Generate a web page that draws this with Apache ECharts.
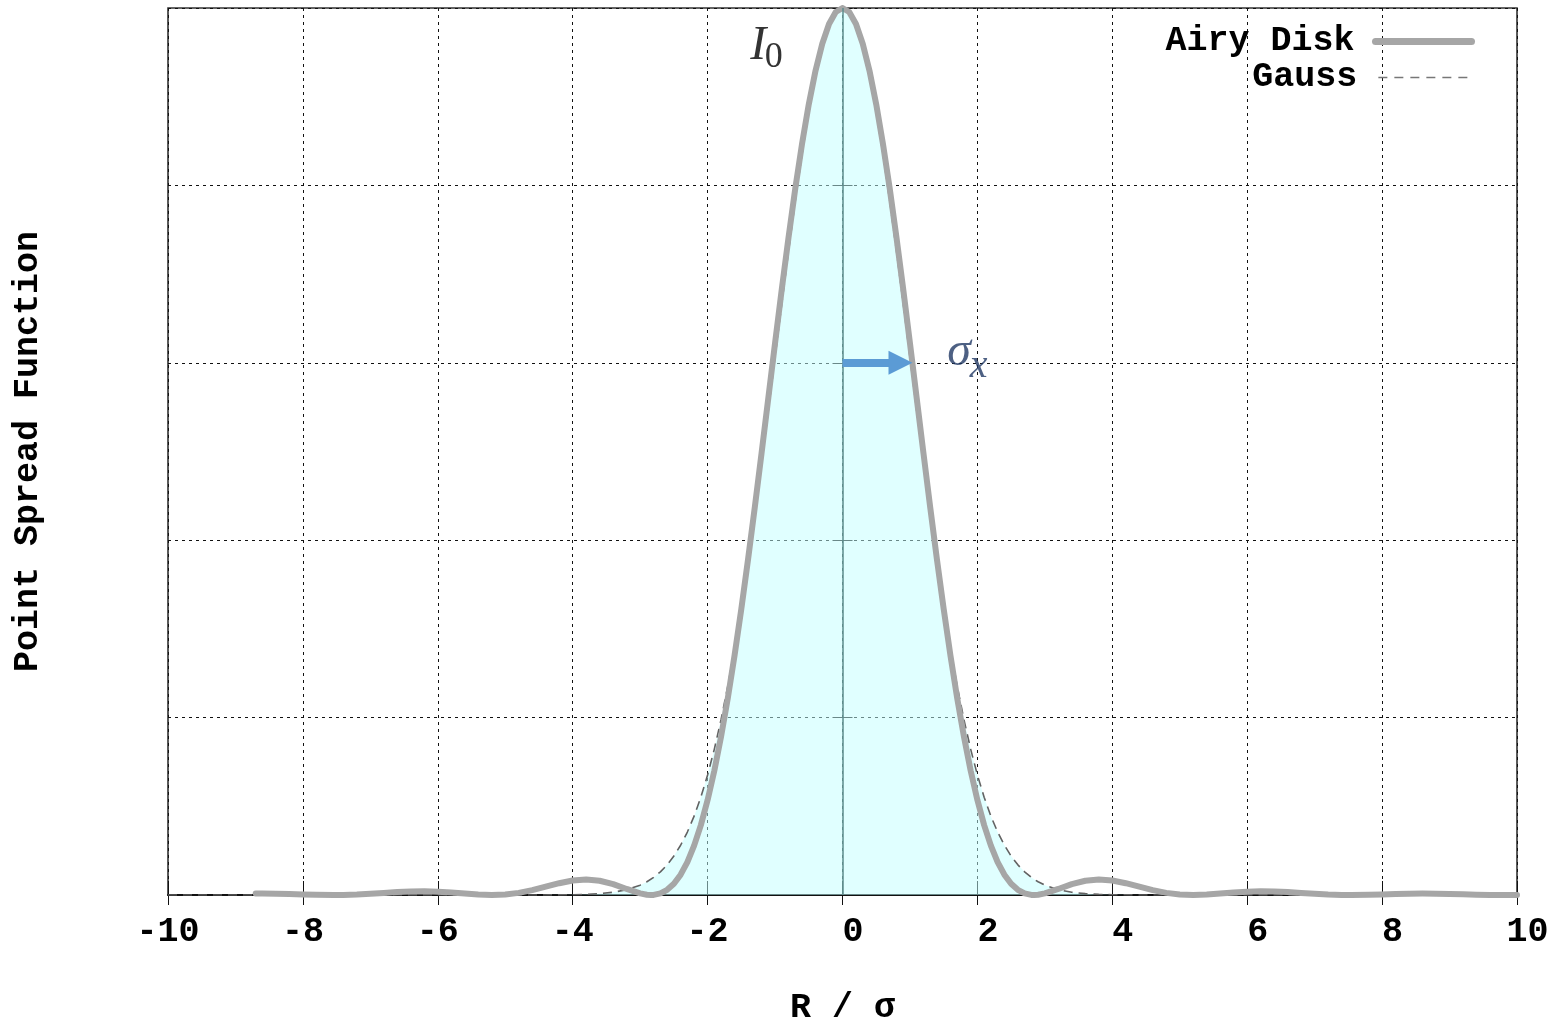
<!DOCTYPE html>
<html><head><meta charset="utf-8">
<script src="https://cdn.jsdelivr.net/npm/echarts@6/dist/echarts.min.js"></script>
<style>html,body{margin:0;padding:0;background:#fff}#c{width:1555px;height:1023px}</style>
</head><body><div id="c"></div>
<script>
// ---- data ----
const airyX = [-8.7,-8.6,-8.4,-8.2,-8.0,-7.8,-7.54,-7.4,-7.2,-7.0,-6.8,-6.6,-6.4,-6.2,-6.0,-5.8,-5.6,-5.4,-5.2,-5.0,-4.8,-4.6,-4.4,-4.2,-4.0,-3.8,-3.6,-3.4,-3.2,-3.0,-2.9,-2.84,-2.8,-2.7,-2.6,-2.5,-2.4,-2.3,-2.2,-2.1,-2.0,-1.9,-1.8,-1.7,-1.6,-1.5,-1.4,-1.3,-1.2,-1.1,-1.0,-0.9,-0.8,-0.7,-0.6,-0.5,-0.4,-0.3,-0.2,-0.1,
  0,0.1,0.2,0.3,0.4,0.5,0.6,0.7,0.8,0.9,1.0,1.1,1.2,1.3,1.4,1.5,1.6,1.7,1.8,1.9,2.0,2.1,2.2,2.3,2.4,2.5,2.6,2.7,2.8,2.84,2.9,3.0,3.2,3.4,3.6,3.8,4.0,4.2,4.4,4.6,4.8,5.0,5.2,5.4,5.6,5.8,6.0,6.2,6.4,6.6,6.8,7.0,7.2,7.4,7.54,7.8,8.0,8.2,8.4,8.6,8.8,9.0,9.2,9.4,9.6,9.8,10];
const airyY = [0.0016,0.0016,0.0015,0.0011,0.0007,0.0003,0,0.0001,0.0005,0.0013,0.0023,0.0033,0.0040,0.0042,0.0037,0.0028,0.0016,0.0005,0,0.0006,0.0024,0.0055,0.0094,0.0133,0.0164,0.0175,0.0161,0.0123,0.0068,0.0018,0.0003,0,0.0001,0.0018,0.0058,0.0126,0.0229,0.0371,0.0556,0.0788,0.1070,0.1403,0.1787,0.2221,0.2702,0.3225,0.3785,0.4374,0.4983,0.5603,0.6223,0.6831,0.7415,0.7965,0.8468,0.8914,0.9293,0.9597,0.9819,0.9955,
  1.0,0.9955,0.9819,0.9597,0.9293,0.8914,0.8468,0.7965,0.7415,0.6831,0.6223,0.5603,0.4983,0.4374,0.3785,0.3225,0.2702,0.2221,0.1787,0.1403,0.1070,0.0788,0.0556,0.0371,0.0229,0.0126,0.0058,0.0018,0.0001,0,0.0003,0.0018,0.0068,0.0123,0.0161,0.0175,0.0164,0.0133,0.0094,0.0055,0.0024,0.0006,0,0.0005,0.0016,0.0028,0.0037,0.0042,0.0040,0.0033,0.0023,0.0013,0.0005,0.0001,0,0.0003,0.0007,0.0011,0.0015,0.0016,0.0015,0.0012,0.0008,0.0004,0.0001,0,0];
const gaussX = [-10,-4.5,-4.0,-3.8,-3.6,-3.4,-3.2,-3.0,-2.9,-2.8,-2.7,-2.6,-2.5,-2.4,-2.3,-2.2,-2.1,-2.0,-1.9,-1.8,-1.7,-1.6,-1.5,-1.4,-1.3,-1.2,-1.1,-1.0,-0.9,-0.8,-0.7,-0.6,-0.5,-0.4,-0.3,-0.2,-0.1,
  0,0.1,0.2,0.3,0.4,0.5,0.6,0.7,0.8,0.9,1.0,1.1,1.2,1.3,1.4,1.5,1.6,1.7,1.8,1.9,2.0,2.1,2.2,2.3,2.4,2.5,2.6,2.7,2.8,2.9,3.0,3.2,3.4,3.6,3.8,4.0,4.5,10];
const gaussY = [0,0,0.0003,0.0007,0.0015,0.0031,0.0060,0.0111,0.0149,0.0198,0.0261,0.0340,0.0439,0.0561,0.0710,0.0889,0.1103,0.1353,0.1645,0.1979,0.2357,0.2780,0.3247,0.3753,0.4296,0.4868,0.5461,0.6065,0.6670,0.7261,0.7827,0.8353,0.8825,0.9231,0.9560,0.9802,0.9950,
  1.0,0.9950,0.9802,0.9560,0.9231,0.8825,0.8353,0.7827,0.7261,0.6670,0.6065,0.5461,0.4868,0.4296,0.3753,0.3247,0.2780,0.2357,0.1979,0.1645,0.1353,0.1103,0.0889,0.0710,0.0561,0.0439,0.0340,0.0261,0.0198,0.0149,0.0111,0.0060,0.0031,0.0015,0.0007,0.0003,0,0];
const seriesNames = ['Airy Disk', 'Gauss'];
const xTitle = 'R / σ';
const yTitle = 'Point Spread Function';
const arrowFrom = [0, 0.6];
const arrowTo = [0.86, 0.6];
const labelI = ['I', -1.25, 0.957];
const labelI0 = ['0', -1.02, 0.944];
const labelSigma = ['σ', 1.73, 0.612];
const labelSigmaX = ['x', 2.02, 0.596];

// ---- build ----
const pairs = (xs, ys) => xs.map((x, i) => [x, ys[i]]);
const mono = 'Liberation Mono';
const monoText = {fontFamily: mono, fontWeight: 'bold', fontSize: 35, color: '#000'};
const chart = echarts.init(document.getElementById('c'), null, {renderer: 'canvas'});
const txt = (arr, style) => ({value: [arr[1], arr[2]], label: Object.assign({show: true, position: 'inside', formatter: arr[0]}, style)});

chart.setOption({
  animation: false,
  backgroundColor: '#fff',
  grid: {left: 168, right: 38, top: 8, bottom: 128, outerBoundsMode: 'none', containLabel: false,
         show: true, borderColor: '#333', borderWidth: 1.6},
  legend: [
    {data: [seriesNames[0]], right: 80, top: 24, padding: 0, align: 'right', itemWidth: 96, itemHeight: 14, selectedMode: false,
     textStyle: Object.assign({}, monoText, {padding: [0, 16, 0, 0]}),
     itemStyle: {opacity: 0}, lineStyle: {width: 7, color: '#a6a6a6'}},
    {data: [seriesNames[1]], right: 80, top: 60, padding: 0, align: 'right', itemWidth: 96, itemHeight: 14, selectedMode: false,
     textStyle: Object.assign({}, monoText, {padding: [0, 16, 0, 0]}),
     itemStyle: {opacity: 0}, lineStyle: {width: 1.3, color: '#777', type: [9, 7]}}
  ],
  xAxis: [
    {type: 'value', min: -10, max: 10, interval: 2, position: 'bottom',
     axisLine: {show: true, onZero: false, lineStyle: {color: '#111', width: 2}},
     axisTick: {show: true, inside: true, length: 14, lineStyle: {color: '#111', width: 1}},
     axisLabel: Object.assign({}, monoText, {margin: 20, formatter: v => (v >= 0 ? ' ' + v : String(v))}),
     splitLine: {show: true, lineStyle: {color: '#111', width: 1, type: [3, 4]}},
     name: xTitle, nameLocation: 'middle', nameGap: 96, nameTextStyle: monoText},
    {type: 'value', min: -10, max: 10, interval: 2, position: 'top',
     axisLine: {show: false}, axisTick: {show: true, inside: true, length: 10, lineStyle: {color: '#111'}},
     axisLabel: {show: false}, splitLine: {show: false}}
  ],
  yAxis: [
    {type: 'value', min: 0, max: 1, interval: 0.2, position: 'left',
     axisLine: {show: false}, axisTick: {show: true, inside: true, length: 10, lineStyle: {color: '#111'}},
     axisLabel: {show: false},
     splitLine: {show: true, lineStyle: {color: '#111', width: 1, type: [3, 4]}},
     name: yTitle, nameLocation: 'middle', nameGap: 122, nameRotate: 90, nameTextStyle: monoText},
    {type: 'value', min: 0, max: 1, interval: 0.2, position: 'right',
     axisLine: {show: false}, axisTick: {show: true, inside: true, length: 10, lineStyle: {color: '#111'}},
     axisLabel: {show: false}, splitLine: {show: false}}
  ],
  series: [
    {name: seriesNames[1], type: 'line', z: 2, symbol: 'none', data: pairs(gaussX, gaussY),
     itemStyle: {color: '#6a6a6a'},
     lineStyle: {color: '#626262', width: 1.6, type: [9, 6]},
     areaStyle: {color: '#c2ffff', opacity: 0.5},
     markLine: {silent: true, symbol: 'none', label: {show: false}, animation: false,
       lineStyle: {color: '#5c8c8c', width: 1.5, type: 'solid'}, data: [{xAxis: 0}]}},
    {name: seriesNames[0], type: 'line', z: 3, symbol: 'none', data: pairs(airyX, airyY),
     itemStyle: {color: '#a6a6a6'},
     lineStyle: {color: '#a6a6a6', width: 6, cap: 'round', join: 'round'},
     markLine: {silent: true, symbol: ['none', 'triangle'], symbolSize: [24, 24], label: {show: false}, animation: false,
       lineStyle: {color: '#5b9bd5', width: 8, type: 'solid', opacity: 1},
       data: [[{coord: arrowFrom}, {coord: arrowTo}]]}},
    {type: 'scatter', z: 5, symbolSize: 0, silent: true,
     data: [
       txt(labelI, {fontFamily: 'Liberation Serif', fontStyle: 'italic', fontSize: 48, color: '#000'}),
       txt(labelI0, {fontFamily: 'Liberation Serif', fontSize: 36, color: '#000'}),
       txt(labelSigma, {fontFamily: 'Liberation Serif', fontStyle: 'italic', fontSize: 48, color: '#203864'}),
       txt(labelSigmaX, {fontFamily: 'Liberation Serif', fontStyle: 'italic', fontSize: 40, color: '#203864'})
     ]}
  ]
});
</script></body></html>
